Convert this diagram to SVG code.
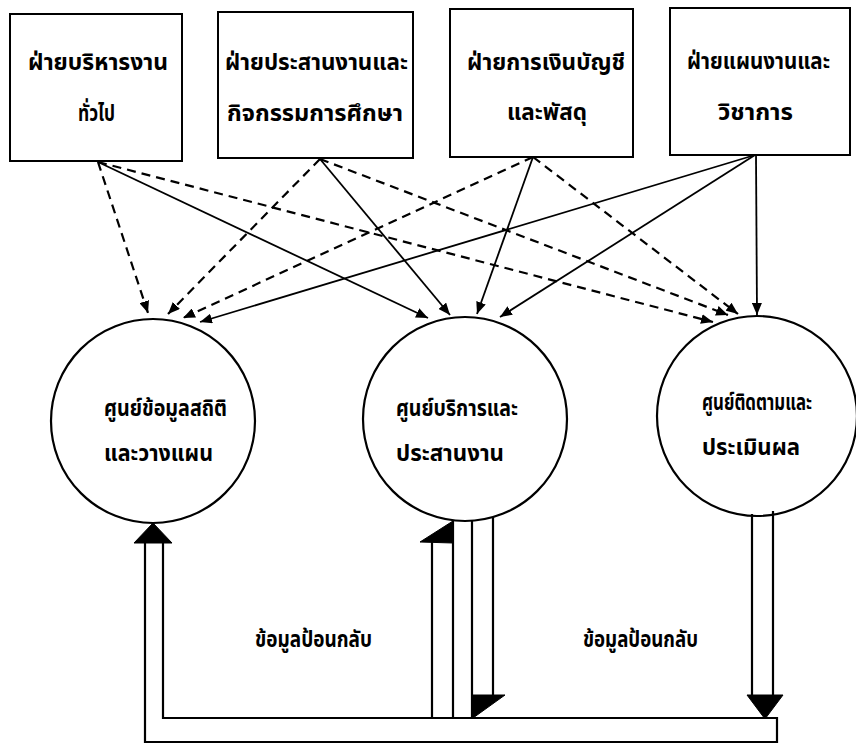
<svg xmlns="http://www.w3.org/2000/svg" width="856" height="745" viewBox="0 0 856 745">
<defs>
<style>
.box{fill:#fff;stroke:#000;stroke-width:2}
.node{fill:#fff;stroke:#000;stroke-width:2.2}
.t{font-family:"Noto Sans Thai","Noto Sans","DejaVu Sans","Liberation Sans",sans-serif;font-size:23px;font-weight:bold;fill:#000}
.solid{fill:none;stroke:#000;stroke-width:1.8}
.dash{fill:none;stroke:#000;stroke-width:2.2;stroke-dasharray:9 6}
.pipe{fill:none;stroke:#000;stroke-width:2.2}
.head{fill:#000;stroke:#000;stroke-width:1}
</style>
<marker id="ah" viewBox="0 0 12 10" refX="12" refY="5" markerWidth="12" markerHeight="10" markerUnits="userSpaceOnUse" orient="auto">
<path d="M0,0 L12,5 L0,10 z" fill="#000"/>
</marker>
</defs>
<rect width="856" height="745" fill="#fff"/>

<g id="box-admin">
<rect class="box" x="10" y="14" width="172" height="147"/>
<text class="t" x="28" y="70" textLength="140" lengthAdjust="spacingAndGlyphs">ฝ่ายบริหารงาน</text>
<text class="t" x="78" y="121" textLength="37" lengthAdjust="spacingAndGlyphs">ทั่วไป</text>
</g>
<g id="box-coord">
<rect class="box" x="218" y="12" width="195" height="146"/>
<text class="t" x="225" y="70" textLength="183" lengthAdjust="spacingAndGlyphs">ฝ่ายประสานงานและ</text>
<text class="t" x="227" y="121" textLength="176" lengthAdjust="spacingAndGlyphs">กิจกรรมการศึกษา</text>
</g>
<g id="box-finance">
<rect class="box" x="450" y="9" width="183" height="148"/>
<text class="t" x="467" y="70" textLength="158" lengthAdjust="spacingAndGlyphs">ฝ่ายการเงินบัญชี</text>
<text class="t" x="507" y="120" textLength="80" lengthAdjust="spacingAndGlyphs">และพัสดุ</text>
</g>
<g id="box-plan">
<rect class="box" x="670" y="8" width="180" height="147"/>
<text class="t" x="687" y="69" textLength="143" lengthAdjust="spacingAndGlyphs">ฝ่ายแผนงานและ</text>
<text class="t" x="718" y="120" textLength="75" lengthAdjust="spacingAndGlyphs">วิชาการ</text>
</g>

<g id="center-data">
<circle class="node" cx="153" cy="421" r="102"/>
<text class="t" x="104" y="416" textLength="123" lengthAdjust="spacingAndGlyphs">ศูนย์ข้อมูลสถิติ</text>
<text class="t" x="104" y="461" textLength="109" lengthAdjust="spacingAndGlyphs">และวางแผน</text>
</g>
<g id="center-service">
<circle class="node" cx="465" cy="419" r="102"/>
<text class="t" x="396" y="416" textLength="122" lengthAdjust="spacingAndGlyphs">ศูนย์บริการและ</text>
<text class="t" x="396" y="461" textLength="108" lengthAdjust="spacingAndGlyphs">ประสานงาน</text>
</g>
<g id="center-eval">
<circle class="node" cx="757" cy="416" r="100"/>
<text class="t" x="702" y="410" textLength="110" lengthAdjust="spacingAndGlyphs">ศูนย์ติดตามและ</text>
<text class="t" x="702" y="455" textLength="98" lengthAdjust="spacingAndGlyphs">ประเมินผล</text>
</g>

<g id="connectors">
<line class="dash" x1="98" y1="162" x2="148" y2="313" marker-end="url(#ah)"/>
<line class="solid" x1="98" y1="162" x2="428" y2="318" marker-end="url(#ah)"/>
<line class="dash" x1="98" y1="162" x2="713" y2="322" marker-end="url(#ah)"/>
<line class="dash" x1="320" y1="159" x2="168" y2="314" marker-end="url(#ah)"/>
<line class="solid" x1="320" y1="159" x2="450" y2="315" marker-end="url(#ah)"/>
<line class="dash" x1="320" y1="159" x2="728" y2="315" marker-end="url(#ah)"/>
<line class="dash" x1="533" y1="157" x2="183" y2="318" marker-end="url(#ah)"/>
<line class="solid" x1="533" y1="157" x2="477" y2="314" marker-end="url(#ah)"/>
<line class="dash" x1="533" y1="157" x2="738" y2="314" marker-end="url(#ah)"/>
<line class="solid" x1="755" y1="155" x2="200" y2="322" marker-end="url(#ah)"/>
<line class="solid" x1="755" y1="155" x2="500" y2="317" marker-end="url(#ah)"/>
<line class="solid" x1="756" y1="155" x2="757" y2="315" marker-end="url(#ah)"/>

<path class="pipe" d="M145,543 V742 H777 V718 H163 V543"/>
<polygon class="head" points="134,543 172,543 153,523"/>
<path class="pipe" d="M432,542 V718 M453,520 V718 M472,521 V718 M493,517 V697"/>
<polygon class="head" points="420,542 453,521 453,543"/>
<polygon class="head" points="473,695 505,695 473,718"/>
<path class="pipe" d="M752,514 V697 M773,511 V697"/>
<polygon class="head" points="747,695 783,695 765,719"/>
</g>

<g id="labels">
<text class="t" x="255" y="647" textLength="117" lengthAdjust="spacingAndGlyphs">ข้อมูลป้อนกลับ</text>
<text class="t" x="583" y="647" textLength="115" lengthAdjust="spacingAndGlyphs">ข้อมูลป้อนกลับ</text>
</g>
</svg>
